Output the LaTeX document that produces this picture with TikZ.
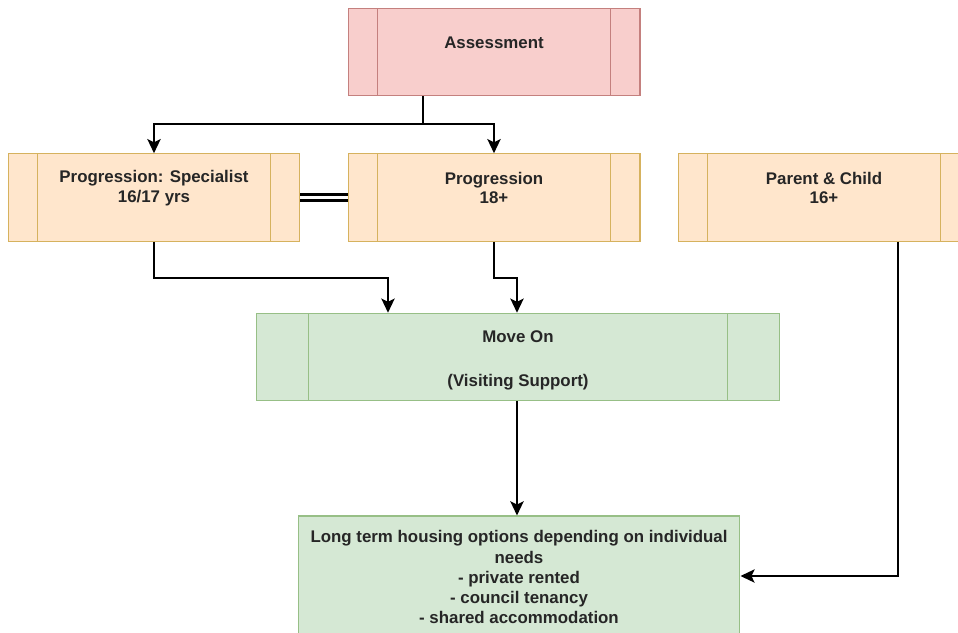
\documentclass[tikz,border=0pt]{standalone}
\usepackage{fontspec}
\setmainfont{Liberation Sans}
\usetikzlibrary{positioning, arrows.meta, calc}

\definecolor{asmtfill}{HTML}{F8CECC}
\definecolor{asmtline}{HTML}{C4807E}
\definecolor{progfill}{HTML}{FFE6CC}
\definecolor{progline}{HTML}{D6B25E}
\definecolor{movefill}{HTML}{D5E8D4}
\definecolor{moveline}{HTML}{97BF86}

\begin{document}
\begin{tikzpicture}[
    x=0.02cm, y=-0.02cm,
    box/.style={draw, line width=0.6pt, minimum width=5.84cm, minimum height=1.75cm, inner sep=0pt},
    proc/.style={box, draw=#1, path picture={
        \draw[#1, line width=0.6pt]
          ($(path picture bounding box.north west)!0.1!(path picture bounding box.north east)$) --
          ($(path picture bounding box.south west)!0.1!(path picture bounding box.south east)$)
          ($(path picture bounding box.north west)!0.9!(path picture bounding box.north east)$) --
          ($(path picture bounding box.south west)!0.9!(path picture bounding box.south east)$);}},
    lbl/.style={font=\bfseries\fontsize{9.6}{11}\selectfont, align=center, text=black!85},
    line/.style={line width=1.3pt},
    conn/.style={line, -{Stealth[length=8pt, width=7.5pt, inset=1.8pt]}},
]
\useasboundingbox (0,0) rectangle (958,633);
\clip (0,0) rectangle (958,633);

% --- Assessment (top) ---
\node[proc=asmtline, fill=asmtfill] (assess) at (494,52) {};
\node[lbl] (assesslbl) at (494,43) {Assessment};

% --- Progression row ---
\node[proc=progline, fill=progfill] (spec)   at (154,197.5) {};
\node[proc=progline, fill=progfill] (prog)   at (494,197.5) {};
\node[proc=progline, fill=progfill] (parent) at (824,197.5) {};
\node[lbl] (speclbl)   at (154,188) {Progression: Specialist\\16/17 yrs};
\node[lbl] (proglbl)   at (494,188) {Progression\\18+};
\node[lbl] (parentlbl) at (824,188) {Parent \& Child\\16+};

% --- Move on ---
\node[proc=moveline, fill=movefill, minimum width=10.48cm] (moveon) at (518,357) {};
\node[lbl] (moveonlbl) at (518,360) {Move On\\[14pt](Visiting Support)};

% --- Long term housing ---
\node[box, draw=moveline, fill=movefill, minimum width=8.84cm, minimum height=2.4cm] (longterm) at (519,576) {};
\node[lbl, font=\bfseries\fontsize{9.6}{11.4}\selectfont] (longtermlbl) at (519,577)
  {Long term housing options depending on individual\\needs\\- private rented\\- council tenancy\\- shared accommodation};

% --- Connectors ---
\coordinate (split) at (423,124);
\coordinate (mvl) at (388,278);
\coordinate (mvr) at (517,278);
\coordinate (pcturn) at (898,576);

\draw[line] (split |- assess.south) -- (split);
\draw[conn] (split) -| (spec.north);
\draw[conn] (split) -| (prog.north);
\draw[line, double, double distance=2pt] (spec.east) -- (prog.west);
\draw[conn] (spec.south) |- (mvl) -- (mvl |- moveon.north);
\draw[conn] (prog.south) |- (mvr) -- (mvr |- moveon.north);
\draw[conn] (mvr |- moveon.south) -- (mvr |- longterm.north);
\draw[conn] (pcturn |- parent.south) -- (pcturn) -- (longterm.east);
\end{tikzpicture}
\end{document}
